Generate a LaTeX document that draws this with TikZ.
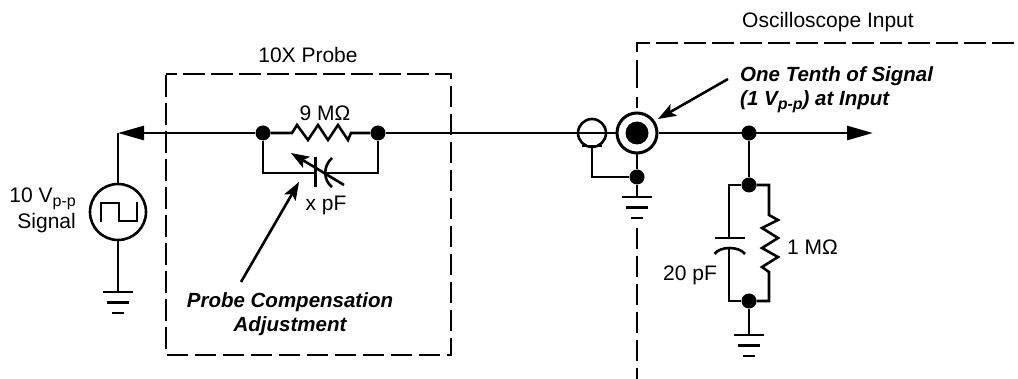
\documentclass[tikz,border=0pt]{standalone}
\usepackage{fontspec}
\setmainfont{Liberation Sans}
\usetikzlibrary{arrows.meta}
\newcommand{\subpp}{\raisebox{-4pt}{\fontsize{16}{16}\selectfont p-p}}
\tikzset{
  wire/.style={line width=2.6pt},
  boxline/.style={line width=2.6pt, dash pattern=on 21.5pt off 6.5pt},
  dot/.style={circle, fill=black, inner sep=0pt, minimum size=15pt},
  ring/.style={circle, draw, fill=white, inner sep=0pt},
  lbl/.style={font=\fontsize{21}{26}\selectfont, inner sep=0pt, align=center},
  note/.style={font=\fontsize{20.5}{24}\selectfont\bfseries\itshape, inner sep=0pt, align=left},
  bigarrow/.style={-{Triangle[length=26pt,width=14pt]}},
  noteline/.style={line width=2.6pt, -{Stealth[length=18pt,width=13pt,inset=4pt]}},
  gnd/.pic={
    \draw[wire] (-15,0) -- (15,0);
    \draw[wire] (-11,10.5) -- (11,10.5);
    \draw[wire] (-6,21) -- (6,21);
  }
}
\begin{document}
\begin{tikzpicture}[x=1pt, y=-1pt, line cap=butt, line join=miter]
    \useasboundingbox (0,0) rectangle (1018,379);

    % Variables for easy adjustment
    \def\ymain{133}   % main signal line

    % Dashed enclosures
    \draw[boxline, dash phase=11pt] (166,74) -- (451,74) -- (451,355) -- (166,355) -- cycle;
    \draw[boxline] (637,52) -- (637,43) -- (1018,43);
    \draw[wire] (637,60) -- (637,88);
    \draw[wire] (637,97) -- (637,108);
    \draw[boxline] (637,228) -- (637,379);

    % Source
    \node[ring, line width=2.6pt, minimum size=56pt] (src) at (118,212) {};
    \draw[wire] (101,222) -- (101,203) -- (119,203) -- (119,221) -- (137,221) -- (137,202);
    \coordinate (corner) at (118,\ymain);
    \coordinate (groundA) at (118,292);
    \draw[wire] (src) -- (corner);
    \draw[wire] (src) -- (groundA);
    \pic at (groundA) {gnd};

    % Junctions
    \node[dot] (pa) at (263,\ymain) {};
    \node[dot] (pb) at (378,\ymain) {};
    \node[dot] (top) at (749,\ymain) {};
    \node[dot] (sa) at (749,185) {};
    \node[dot] (sb) at (749,301) {};
    \node[dot] (shield) at (637,177) {};

    % Connector and probe tip
    \node[ring, line width=3pt, minimum size=40pt] (bnc) at (637,\ymain) {};
    \node[circle, fill=black, minimum size=23pt, inner sep=0pt] (pin) at (637,\ymain) {};
    \node[circle, draw, line width=2.6pt, minimum size=28pt, inner sep=0pt] (tip) at (592,\ymain) {};
    \coordinate (groundB) at (637,197);
    \coordinate (tipfoot) at (592,146);
    \draw[wire] (582,146) -- (602,146);
    \draw[wire] (tipfoot) |- (shield);
    \draw[wire] (bnc) -- (shield) -- (groundB);
    \pic at (groundB) {gnd};

    % Main line, left arrow and right arrow
    \coordinate (outend) at (873,\ymain);
    \draw[wire, bigarrow] (pa) -- (corner);
    \draw[wire] (pb) -- (bnc);
    \draw[wire, bigarrow] (bnc) -- (outend);

    % 9 MOhm resistor
    \coordinate (ra) at (292,\ymain);
    \coordinate (rb) at (351,\ymain);
    \draw[wire] (pa) -- (ra) -- (297,125) -- (308,140) -- (318,125) -- (328,140)
        -- (338,125) -- (348,140) -- (rb) -- (pb);

    % Trimmer
    \coordinate (ca) at (315.5,173);
    \coordinate (cb) at (325,173);
    \draw[wire] (pa) |- (ca);
    \draw[wire] (pb) |- (cb);
    \draw[wire] (315.5,157) -- (315.5,187);
    \draw[wire] (332,158) .. controls (323,166) and (323,180) .. (332,187);
    \coordinate (trimA) at (344,185);
    \coordinate (trimB) at (291,153);
    \draw[noteline] (trimA) -- (trimB);

    % 20 pF capacitor
    \coordinate (cl) at (729,185);
    \coordinate (cm) at (729,238);
    \coordinate (cn) at (729,248);
    \coordinate (co) at (729,301);
    \draw[wire] (top) -- (sa);
    \draw[wire] (sa) -- (cl) -- (cm);
    \draw[wire] (714.5,238) -- (745,238);
    \draw[wire] (714.5,254) .. controls (720,246) and (739,246) .. (745,254);
    \draw[wire] (cn) -- (co) -- (sb);

    % 1 MOhm resistor
    \coordinate (rc) at (769,185);
    \coordinate (rd) at (769,215);
    \coordinate (re) at (769,272);
    \coordinate (rf) at (769,301);
    \draw[wire] (sa) -- (rc) -- (rd) -- (778,220) -- (762,228) -- (778,238) -- (762,248)
        -- (778,257) -- (762,267) -- (re) -- (rf) -- (sb);

    \coordinate (groundC) at (749,335);
    \draw[wire] (sb) -- (groundC);
    \pic at (groundC) {gnd};

    % Labels
    \node[lbl] (probelbl) at (308,55) {10X Probe};
    \node[lbl] (scopelbl) at (828,22) {Oscilloscope Input};
    \node[lbl] (rnine) at (325,113) {9 MΩ};
    \node[lbl] (xpf) at (326,205) {x pF};
    \node[lbl, align=right, anchor=east] (siglbl) at (76,210) {10 V\subpp\\Signal};
    \node[lbl, anchor=west] (rone) at (787,247) {1 MΩ};
    \node[lbl] (cpf) at (690,275) {20 pF};
    \node[note, align=center] (comp) at (290,314) {Probe Compensation\\Adjustment};
    \node[note, anchor=west] (tenth) at (740,90) {One Tenth of Signal\\(1 V\subpp) at Input};

    % Pointers
    \coordinate (compfrom) at (241,282);
    \coordinate (compto) at (299,182);
    \coordinate (tenthfrom) at (728,79);
    \coordinate (tenthto) at (658,119);
    \draw[noteline] (compfrom) -- (compto);
    \draw[noteline] (tenthfrom) -- (tenthto);

\end{tikzpicture}
\end{document}
